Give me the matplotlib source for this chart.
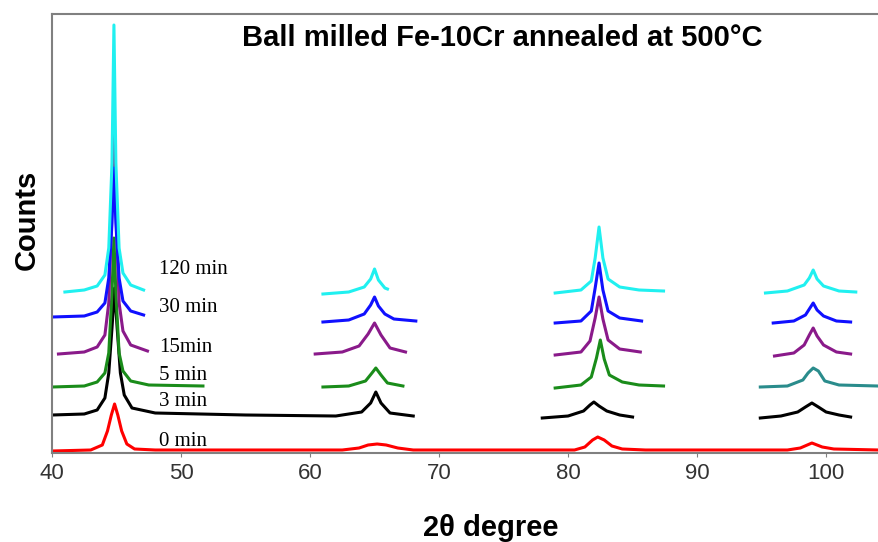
import matplotlib
matplotlib.use('Agg')
import matplotlib.pyplot as plt

plt.rcParams['font.family'] = ['Liberation Sans', 'DejaVu Sans']

# Curvas de DRX (2theta, contagens), em segmentos
cyan_x = [[41.0, 42.5, 43.5, 44.1, 44.4, 44.65, 44.8, 44.95, 45.2, 45.5, 46.1, 47.1],
          [61.0, 63.0, 64.2, 64.7, 65.0, 65.3, 65.8, 66.0],
          [79.0, 81.0, 81.8, 82.1, 82.4, 82.7, 83.1, 84.0, 85.5, 87.4],
          [95.3, 97.0, 98.3, 98.7, 99.0, 99.3, 99.8, 101.0, 102.3]]
cyan_y = [[161, 163, 167, 178, 205, 290, 428, 290, 205, 180, 168, 163],
          [159, 161, 166, 174, 184, 173, 165, 164],
          [160, 163, 172, 195, 226, 195, 174, 166, 163, 162],
          [160, 162, 168, 175, 183, 174, 167, 162, 161]]

blue_x = [[40.0, 42.5, 43.5, 44.1, 44.4, 44.65, 44.8, 44.95, 45.2, 45.5, 46.1, 47.1],
          [61.0, 63.0, 64.2, 64.7, 65.0, 65.3, 65.8, 66.5, 68.2],
          [79.0, 81.0, 81.8, 82.1, 82.4, 82.7, 83.1, 84.0, 85.7],
          [95.9, 97.5, 98.4, 98.7, 99.0, 99.3, 99.8, 100.8, 101.9]]
blue_y = [[136, 137, 141, 150, 175, 230, 285, 230, 175, 152, 142, 138],
          [131, 133, 139, 148, 156, 147, 139, 134, 132],
          [130, 132, 142, 165, 190, 163, 142, 135, 132],
          [130, 132, 138, 144, 150, 143, 137, 132, 131]]

purple_x = [[40.5, 42.5, 43.5, 44.1, 44.4, 44.65, 44.8, 44.95, 45.2, 45.5, 46.1, 47.4],
            [60.4, 62.5, 63.8, 64.5, 65.0, 65.5, 66.2, 67.4],
            [79.0, 81.0, 81.7, 82.1, 82.4, 82.7, 83.1, 84.0, 85.6],
            [96.0, 97.5, 98.3, 98.7, 99.0, 99.3, 99.8, 100.8, 101.9]]
purple_y = [[99, 101, 106, 118, 150, 250, 348, 250, 150, 122, 108, 102],
            [99, 101, 107, 119, 130, 118, 105, 101],
            [98, 101, 112, 135, 156, 134, 113, 104, 101],
            [97, 100, 108, 118, 125, 117, 108, 101, 99]]

green_x = [[40.0, 42.5, 43.5, 44.1, 44.4, 44.65, 44.8, 44.95, 45.2, 45.5, 46.1, 47.5, 51.7],
           [61.0, 63.0, 64.3, 64.8, 65.1, 65.5, 66.0, 67.2],
           [79.0, 81.0, 81.8, 82.2, 82.5, 82.8, 83.2, 84.2, 85.5, 87.4]]
green_y = [[66, 67, 71, 80, 100, 160, 215, 160, 100, 82, 72, 68, 67],
           [66, 67, 72, 80, 85, 78, 70, 67],
           [65, 68, 76, 95, 113, 94, 78, 71, 68, 67]]
teal_x = [94.9, 97.0, 98.2, 98.6, 99.0, 99.4, 99.9, 101.0, 104.0]
teal_y = [66, 67, 73, 80, 85, 82, 72, 68, 67]

black_x = [[40.0, 42.5, 43.5, 44.1, 44.4, 44.65, 44.85, 45.05, 45.3, 45.6, 46.2, 48.0,
            55.0, 62.0, 64.0, 64.7, 65.1, 65.5, 66.2, 68.0],
           [78.0, 80.0, 81.2, 81.7, 82.0, 82.4, 83.0, 84.0, 85.0],
           [94.9, 96.5, 97.8, 98.4, 98.9, 99.4, 100.0, 101.0, 101.9]]
black_y = [[38, 39, 43, 55, 80, 125, 165, 125, 80, 58, 45, 40,
            38, 37, 41, 50, 61, 50, 40, 37],
           [35, 37, 42, 48, 51, 47, 42, 38, 36],
           [35, 37, 41, 46, 50, 46, 41, 38, 36]]

red_x = [40.0, 43.0, 43.9, 44.3, 44.6, 44.85, 45.1, 45.4, 45.8, 46.4, 48.0,
         62.5, 63.8, 64.5, 65.2, 65.9, 66.8, 68.0,
         80.5, 81.3, 81.9, 82.3, 82.8, 83.4, 84.2, 86.0,
         97.0, 98.0, 98.9, 99.7, 100.6, 104.1]
red_y = [2, 3, 8, 22, 38, 49, 38, 22, 9, 4, 3,
         3, 5, 8, 9, 8, 5, 3,
         3, 6, 13, 16, 13, 7, 4, 3,
         3, 5, 10, 6, 4, 3]

rotulos = ['120 min', '30 min', '15min', '5 min', '3 min', '0 min']
rotulos_y = [184, 145, 106, 78, 52, 12]

fig = plt.figure(figsize=(8.79, 5.42), dpi=100)
ax = fig.add_axes([52 / 879, 1 - 453 / 542, 1 - 52 / 879, 439 / 542])

lw = 2.2
ax.plot(red_x, red_y, color='#ff0000', lw=lw)
for xs, ys in zip(black_x, black_y):
    ax.plot(xs, ys, color='black', lw=lw)
for xs, ys in zip(green_x, green_y):
    ax.plot(xs, ys, color='#1a8c1a', lw=lw)
ax.plot(teal_x, teal_y, color='#2a8c8c', lw=lw)
for xs, ys in zip(purple_x, purple_y):
    ax.plot(xs, ys, color='#8a1a8a', lw=lw)
for xs, ys in zip(blue_x, blue_y):
    ax.plot(xs, ys, color='#1010ff', lw=lw)
for xs, ys in zip(cyan_x, cyan_y):
    ax.plot(xs, ys, color='#20f0f0', lw=lw)

for txt, yy in zip(rotulos, rotulos_y):
    ax.text(48.3, yy, txt, fontsize=15, family='Liberation Serif', va='center', ha='left')

ax.text(74.9, 415, 'Ball milled Fe-10Cr annealed at 500°C', fontsize=21,
        fontweight='bold', ha='center', va='center')

ax.set_xlim(40, 104.1)
ax.set_ylim(0, 439)
ax.set_xticks([40, 50, 60, 70, 80, 90, 100])
ax.set_yticks([])
ax.tick_params(axis='x', labelsize=16, length=3, color='#808080', pad=4, labelcolor='#333333')
for s in ['left', 'top', 'bottom']:
    ax.spines[s].set_color('#808080')
    ax.spines[s].set_linewidth(1.5)
ax.spines['right'].set_visible(False)

ax.set_xlabel('2θ degree', fontsize=21, fontweight='bold')
ax.xaxis.set_label_coords(0.53, -0.138)
ax.set_ylabel('Counts', fontsize=21, fontweight='bold')
ax.yaxis.set_label_coords(-0.013, 0.53)

fig.savefig('out.png', dpi=100)
